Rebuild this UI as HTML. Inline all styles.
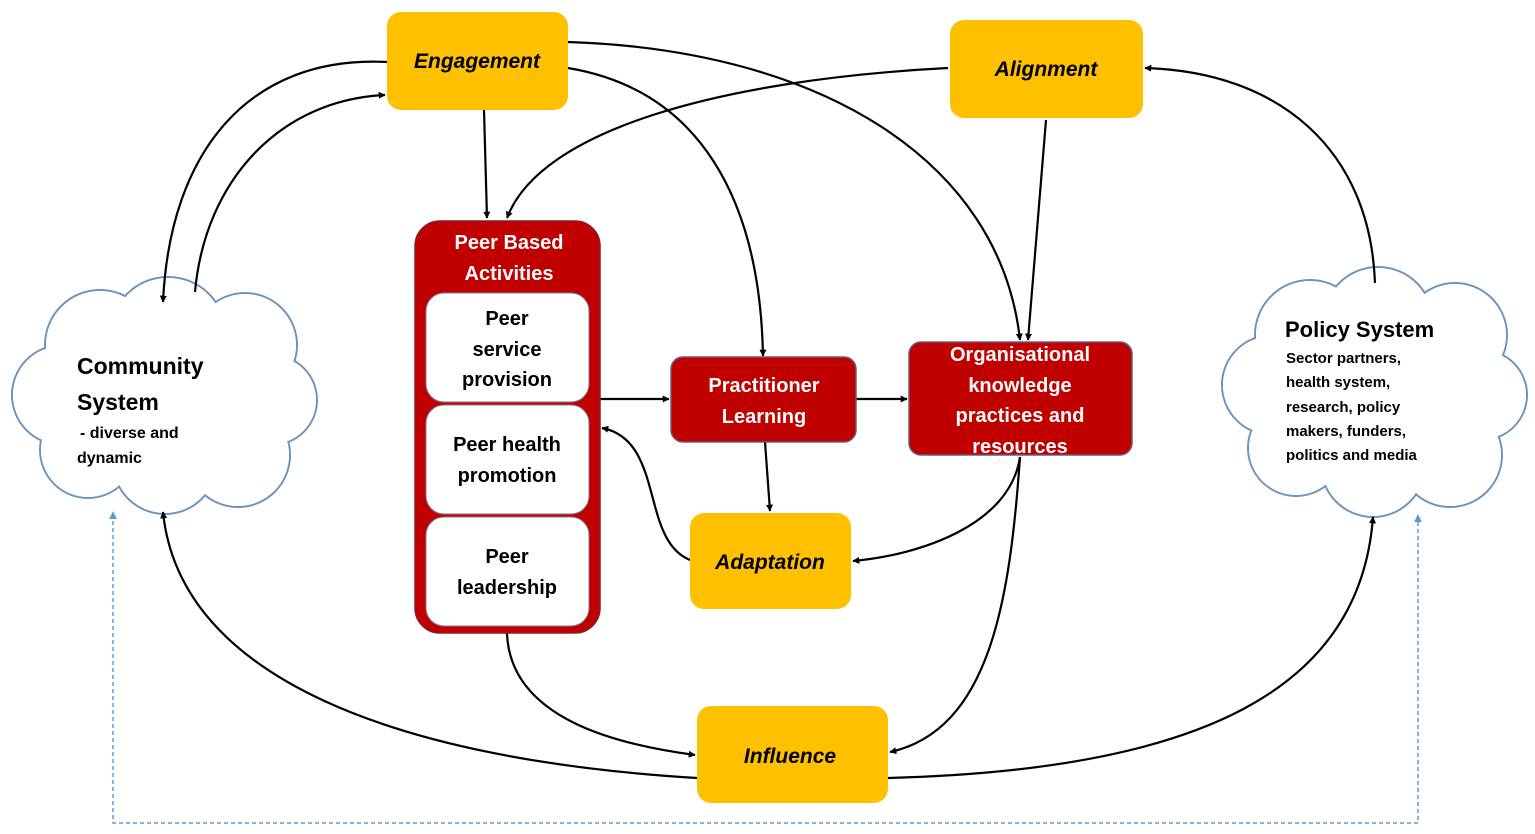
<!DOCTYPE html>
<html><head><meta charset="utf-8"><style>
html,body{margin:0;padding:0;background:#fff;}
svg{display:block;font-family:"Liberation Sans",sans-serif;font-weight:bold;}
</style></head><body>
<svg width="1535" height="834" viewBox="0 0 1535 834" xmlns="http://www.w3.org/2000/svg">
<defs>
<marker id="a" viewBox="0 0 10 10" refX="9" refY="5" markerWidth="7" markerHeight="7" orient="auto-start-reverse" markerUnits="userSpaceOnUse"><path d="M0,0 L10,5 L0,10 z" fill="#000"/></marker>
<marker id="b" viewBox="0 0 10 10" refX="9" refY="5" markerWidth="8" markerHeight="8" orient="auto-start-reverse" markerUnits="userSpaceOnUse"><path d="M0,0 L10,5 L0,10 z" fill="#5B9BD5"/></marker>
</defs>
<!-- Community cloud -->
<g stroke="#6A93BD" stroke-width="2" fill="#fff">
<circle cx="62" cy="395" r="50"/><circle cx="100" cy="345" r="55"/><circle cx="168" cy="335" r="58"/><circle cx="245" cy="345" r="52"/><circle cx="272" cy="400" r="45"/><circle cx="238" cy="455" r="52"/><circle cx="165" cy="462" r="52"/><circle cx="88" cy="450" r="48"/>
</g>
<g fill="#fff">
<circle cx="62" cy="395" r="49"/><circle cx="100" cy="345" r="54"/><circle cx="168" cy="335" r="57"/><circle cx="245" cy="345" r="51"/><circle cx="272" cy="400" r="44"/><circle cx="238" cy="455" r="51"/><circle cx="165" cy="462" r="51"/><circle cx="88" cy="450" r="47"/><ellipse cx="165" cy="400" rx="110" ry="80"/>
</g>
<!-- Policy cloud -->
<g stroke="#6A93BD" stroke-width="2" fill="#fff">
<circle cx="1272" cy="385" r="50"/><circle cx="1310" cy="335" r="55"/><circle cx="1378" cy="322" r="55"/><circle cx="1455" cy="335" r="52"/><circle cx="1482" cy="395" r="45"/><circle cx="1450" cy="455" r="52"/><circle cx="1373" cy="465" r="52"/><circle cx="1296" cy="448" r="48"/>
</g>
<g fill="#fff">
<circle cx="1272" cy="385" r="49"/><circle cx="1310" cy="335" r="54"/><circle cx="1378" cy="322" r="54"/><circle cx="1455" cy="335" r="51"/><circle cx="1482" cy="395" r="44"/><circle cx="1450" cy="455" r="51"/><circle cx="1373" cy="465" r="51"/><circle cx="1296" cy="448" r="47"/><ellipse cx="1375" cy="393" rx="110" ry="85"/>
</g>
<!-- connectors -->
<g fill="none" stroke="#000" stroke-width="2.2" marker-end="url(#a)">
<path d="M387,62 C250,55 170,150 163,302"/>
<path d="M195,292 C205,180 280,100 385,95"/>
<path d="M484,110 L487,218"/>
<path d="M568,68 C700,90 760,200 763,356"/>
<path d="M568,42 C820,50 1000,160 1020,340"/>
<path d="M948,68 C720,80 540,130 507,218"/>
<path d="M1046,120 L1028,340"/>
<path d="M1375,283 C1370,150 1280,72 1145,68"/>
<path d="M600,399 L669,399"/>
<path d="M856,399 L907,399"/>
<path d="M765,442 L770,511"/>
<path d="M690,560 C640,540 665,440 602,428"/>
<path d="M1020,457 C1010,525 920,555 853,561"/>
<path d="M1020,457 C1010,600 990,730 890,752"/>
<path d="M507,633 C510,720 620,745 695,755"/>
<path d="M697,778 C400,760 180,680 163,512"/>
<path d="M888,778 C1200,770 1360,690 1373,517"/>
</g>
<path d="M1418,515 L1418,823 L113,823 L113,512" fill="none" stroke="#5B9BD5" stroke-width="1.5" stroke-dasharray="4,3" marker-start="url(#b)" marker-end="url(#b)"/>
<!-- boxes -->
<g fill="#FFC000">
<rect x="387" y="12" width="181" height="98" rx="14"/>
<rect x="950" y="20" width="193" height="98" rx="14"/>
<rect x="690" y="513" width="161" height="96" rx="14"/>
<rect x="697" y="706" width="191" height="97" rx="14"/>
</g>
<rect x="415" y="221" width="185" height="412" rx="25" fill="#C00000" stroke="#8B1A2B" stroke-width="1.5"/>
<g fill="#fff" stroke="#7a7a9a" stroke-width="1">
<rect x="426" y="293" width="163" height="109" rx="18"/>
<rect x="426" y="405" width="163" height="109" rx="18"/>
<rect x="426" y="517" width="163" height="109" rx="18"/>
</g>
<rect x="671" y="357" width="185" height="85" rx="12" fill="#C00000" stroke="#6b5a7a" stroke-width="1.5"/>
<rect x="909" y="342" width="223" height="113" rx="12" fill="#C00000" stroke="#6b5a7a" stroke-width="1.5"/>
<!-- text -->
<g font-style="italic" font-size="21" text-anchor="middle" fill="#000">
<text x="477" y="68">Engagement</text>
<text x="1046" y="76">Alignment</text>
<text x="770" y="569">Adaptation</text>
<text x="790" y="763">Influence</text>
</g>
<g font-size="20" text-anchor="middle" fill="#fff">
<text x="509" y="249">Peer Based</text>
<text x="509" y="280">Activities</text>
<text x="764" y="392">Practitioner</text>
<text x="764" y="423">Learning</text>
<text x="1020" y="361">Organisational</text>
<text x="1020" y="392">knowledge</text>
<text x="1020" y="422">practices and</text>
<text x="1020" y="453">resources</text>
</g>
<g font-size="20" text-anchor="middle" fill="#000">
<text x="507" y="325">Peer</text>
<text x="507" y="356">service</text>
<text x="507" y="386">provision</text>
<text x="507" y="451">Peer health</text>
<text x="507" y="482">promotion</text>
<text x="507" y="563">Peer</text>
<text x="507" y="594">leadership</text>
</g>
<g fill="#000">
<text x="77" y="374" font-size="23">Community</text>
<text x="77" y="410" font-size="23">System</text>
<text x="80" y="438" font-size="16"> - diverse and</text>
<text x="77" y="463" font-size="16">dynamic</text>
<text x="1285" y="337" font-size="22">Policy System</text>
<g font-size="15">
<text x="1286" y="363">Sector partners,</text>
<text x="1286" y="387">health system,</text>
<text x="1286" y="412">research, policy</text>
<text x="1286" y="436">makers, funders,</text>
<text x="1286" y="460">politics and media</text>
</g>
</g>
</svg>
</body></html>
